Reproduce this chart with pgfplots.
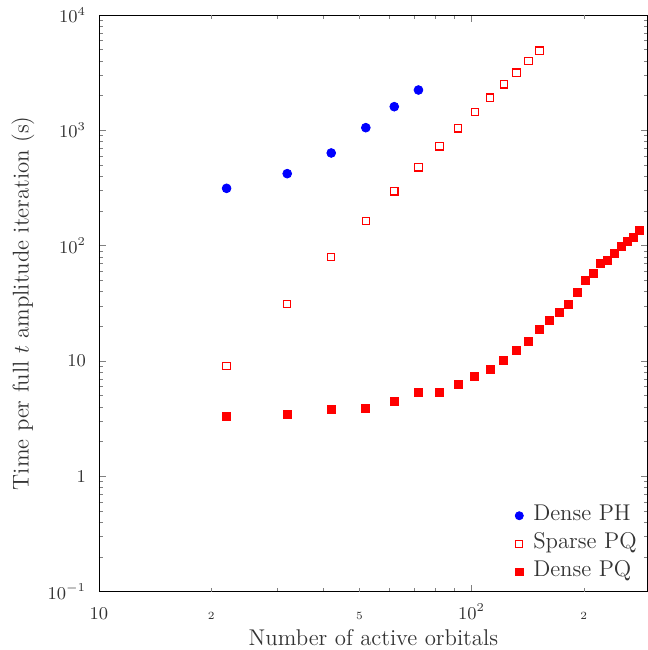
\documentclass[border=0pt]{standalone}
\usepackage{pgfplots}
\pgfplotsset{compat=1.18}
\definecolor{txt}{HTML}{333333}

\begin{document}
\begin{tikzpicture}
  \begin{axis}[
      xmode=log, ymode=log,
      scale only axis,
      width=274.5pt, height=288.4pt,
      xmin=10, xmax=297,
      ymin=0.1, ymax=10000,
      tick align=inside,
      major tick length=3.5pt,
      minor tick length=2pt,
      xtick={10,100},
      xticklabels={$10$,$10^2$},
      minor xtick={20,30,40,50,60,70,80,90,200,300},
      extra x ticks={20,50,200},
      extra x tick labels={2,5,2},
      extra x tick style={major tick length=2pt,
        tick label style={font=\fontsize{5.5}{6}\selectfont}},
      ytick={0.1,1,10,100,1000,10000},
      yticklabels={$10^{-1}$,$1$,$10$,$10^2$,$10^3$,$10^4$},
      minor ytick={0.2,0.3,0.4,0.5,0.6,0.7,0.8,0.9,
        2,3,4,5,6,7,8,9,20,30,40,50,60,70,80,90,
        200,300,400,500,600,700,800,900,
        2000,3000,4000,5000,6000,7000,8000,9000},
      tick label style={text=txt, font=\fontsize{9.2}{10}\selectfont},
      x tick label style={anchor=base, yshift=-13.7pt},
      y tick label style={xshift=-3pt},
      label style={text=txt, font=\fontsize{11.4}{13}\selectfont},
      xlabel={Number of active orbitals},
      xlabel style={at={(axis description cs:0.5,0)}, anchor=base, yshift=-26.7pt},
      ylabel={Time per full $t$ amplitude iteration (s)},
      ylabel style={at={(axis description cs:0,0.5)}, anchor=south, yshift=28.75pt},
      legend cell align=left,
      legend image code/.code={
        \draw[#1, scale=0.92] plot coordinates {(0pt,0pt)};
        \path[draw=none, fill=none] (-2.2pt,0pt) rectangle (6pt,0pt);},
      legend style={draw=none, fill=none, inner sep=0pt, outer sep=0pt,
        at={(axis description cs:1,0)}, anchor=south east,
        xshift=-4.6pt, yshift=4.25pt, row sep=2.6pt,
        font=\fontsize{11.4}{13}\selectfont, text=txt,
        nodes={inner sep=1pt, text height=0.72em, text depth=0.22em}},
    ]
    \addplot[only marks, mark=*, mark size=2.2pt, color=blue, fill=blue]
      coordinates {(22,314) (32,421) (42,636) (52,1054) (62,1603) (72,2236)};
    \addplot[only marks, mark=square, mark size=1.85pt, color=red, line width=0.55pt]
      coordinates {(22,9.08) (32,31.2) (42,80.1) (52,164) (62,296) (72,478)
        (82,727) (92,1040) (102,1441) (112,1917) (122,2506) (132,3158)
        (142,3990) (152,4902)};
    \addplot[only marks, mark=square*, mark size=2pt, color=red, fill=red]
      coordinates {(22,3.33) (32,3.42) (42,3.77) (52,3.90) (62,4.49) (72,5.38)
        (82,5.38) (92,6.30) (102,7.35) (112,8.39) (122,10.2) (132,12.26)
        (142,14.8) (152,18.9) (162,22.5) (172,26.4) (182,31.2) (192,39.0)
        (202,50.0) (212,57.8) (222,69.7) (232,74.6) (242,86.3) (252,97.8)
        (262,109.6) (272,118) (282,136.6)};
    \legend{Dense PH, Sparse PQ, Dense PQ}
  \end{axis}
  \pgfresetboundingbox
  \path[use as bounding box]
    ([shift={(-49.5pt,-29.2pt)}]current axis.south west)
    rectangle ([shift={(0pt,7.5pt)}]current axis.north east);
\end{tikzpicture}
\end{document}
